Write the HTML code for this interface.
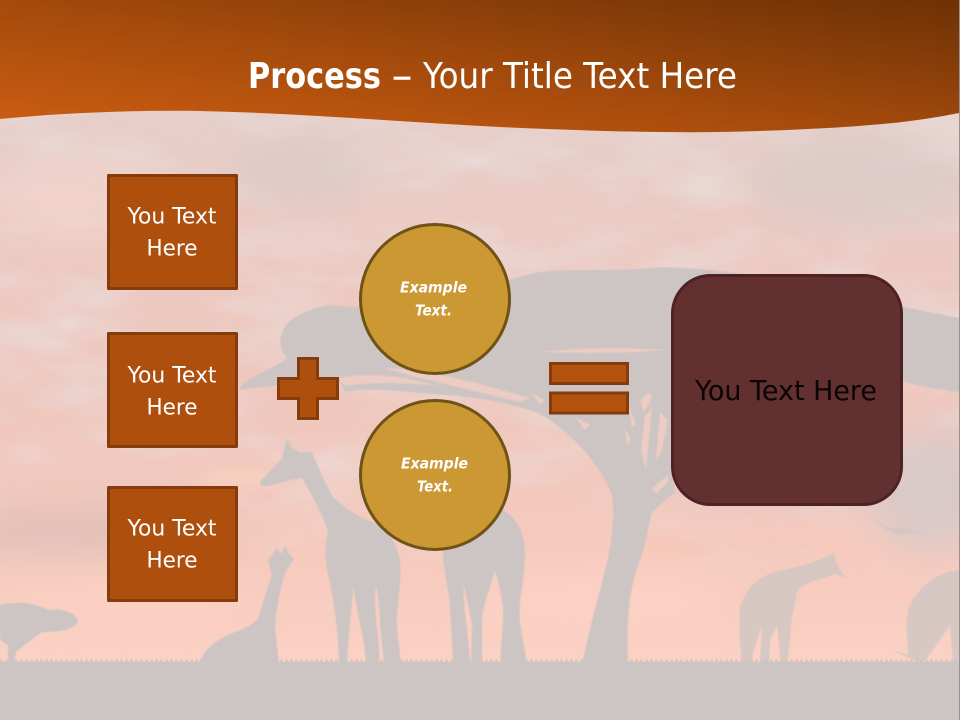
<!DOCTYPE html>
<html>
<head>
<meta charset="utf-8">
<style>
html,body{margin:0;padding:0;background:#cdc5c3}
svg{display:block}
text{font-family:"DejaVu Sans","Liberation Sans",sans-serif}
</style>
</head>
<body>
<svg width="960" height="720" viewBox="0 0 960 720" xmlns="http://www.w3.org/2000/svg">
<defs>
<linearGradient id="sky" x1="0" y1="100" x2="0" y2="670" gradientUnits="userSpaceOnUse">
<stop offset="0" stop-color="#e6cfca"/>
<stop offset=".25" stop-color="#eccac2"/>
<stop offset=".55" stop-color="#efc8be"/>
<stop offset=".8" stop-color="#f6cabd"/>
<stop offset="1" stop-color="#fbd2c5"/>
</linearGradient>
<linearGradient id="hdr" x1="0" y1="120" x2="38" y2="-141" gradientUnits="userSpaceOnUse">
<stop offset="0" stop-color="#ca5c11"/>
<stop offset=".45" stop-color="#a34a0c"/>
<stop offset="1" stop-color="#6b3005"/>
</linearGradient>
<linearGradient id="fade" x1="0" y1="100" x2="0" y2="600" gradientUnits="userSpaceOnUse">
<stop offset="0" stop-color="#fff"/>
<stop offset=".7" stop-color="#fff"/>
<stop offset="1" stop-color="#000"/>
</linearGradient>
<mask id="cloudmask" maskUnits="userSpaceOnUse" x="0" y="100" width="960" height="500">
<rect x="0" y="100" width="960" height="500" fill="url(#fade)"/>
</mask>
<filter id="b20" x="-30%" y="-60%" width="160%" height="220%"><feGaussianBlur stdDeviation="18"/></filter>
<filter id="b7" x="-30%" y="-80%" width="160%" height="260%"><feGaussianBlur stdDeviation="6"/></filter>
<filter id="b1"><feGaussianBlur stdDeviation=".5"/></filter>
<filter id="clouds" x="0" y="0" width="100%" height="100%">
<feTurbulence type="fractalNoise" baseFrequency=".008 .022" numOctaves="4" seed="7"/>
<feColorMatrix type="matrix" values="0 0 0 0 .82  0 0 0 0 .76  0 0 0 0 .75  2.6 0 0 0 -1.1"/>
</filter>
</defs>

<rect width="960" height="720" fill="url(#sky)"/>
<g mask="url(#cloudmask)">
<rect x="0" y="100" width="960" height="500" filter="url(#clouds)" opacity=".55"/>
</g>

<g filter="url(#b20)">
<ellipse cx="300" cy="170" rx="70" ry="30" fill="#d9c9c7" opacity=".7"/>
<ellipse cx="860" cy="180" rx="110" ry="45" fill="#dbcac8" opacity=".8"/>
<ellipse cx="80" cy="200" rx="90" ry="35" fill="#f1d2ca"/>
<ellipse cx="90" cy="530" rx="150" ry="25" fill="#e2c0b8"/>
<ellipse cx="780" cy="470" rx="140" ry="30" fill="#e0c6c1"/>
<ellipse cx="600" cy="600" rx="130" ry="28" fill="#fdd2c4"/>
<ellipse cx="130" cy="600" rx="120" ry="25" fill="#fcd0c3"/>
<ellipse cx="930" cy="490" rx="60" ry="60" fill="#d9c9c7"/>
</g>
<g filter="url(#b7)">
<ellipse cx="240" cy="478" rx="40" ry="6" fill="#fad3c0"/>
<ellipse cx="660" cy="548" rx="60" ry="3" fill="#f5c4b4"/>
<ellipse cx="650" cy="500" rx="30" ry="2" fill="#f5c4b4"/>
</g>

<!-- silhouettes -->
<g fill="#cdc5c3" filter="url(#b1)">
<path d="M282 333C286 318 305 311 328 305C345 306 362 310 372 304C405 300 440 306 468 298C490 285 515 277 540 272C575 268 620 272 660 267C700 268 745 272 790 284C840 292 890 305 960 318V392C920 388 880 375 840 365L690 420L672 480L675 492L652 512L650 520C648 530 645 548 640 560C630 585 626 620 628 664H582C587 640 592 620 600 590C608 560 616 530 612 495C600 465 575 435 540 414C510 402 470 396 420 393C390 390 365 388 345 392L338 378C305 382 270 386 239 390C245 376 270 372 287 358C280 350 279 342 282 333Z"/>
<path d="M260 482C266 474 276 466 282 458L287 438L291 447L300 452L312 452C318 468 326 484 333 497C345 508 356 515 367 520C385 525 396 540 400 560C402 585 396 605 397 627L401 664H384L380 625C380 610 378 595 376 585C372 610 381 640 379 664H366C365 640 358 620 353 585C352 610 348 640 347 664H339C338 630 334 600 328 573C324 560 325 545 328 530C320 510 310 492 302 478C288 479 270 488 261 486Z"/>
<path d="M443 560L445 530L500 509C517 515 526 535 525 558C524 585 518 600 520 622L527 664H500L503 620C504 605 500 590 495 570C490 590 484 600 482 620V664H471L472 625L464 585C462 605 470 640 470 664H453C451 635 451 605 447 585Z"/>
<path d="M277 548L281 554L285 546L289 554L294 559L289 566L284 576C280 592 276 610 275 627L279 664H198C205 650 212 641 235 632C246 628 254 624 258 618C264 600 268 585 272 575L268 560Z"/>
<path d="M0 605C15 601 35 602 48 610C62 608 76 612 78 621C75 630 60 632 42 632C34 638 24 645 16 652L14 664H8V645L0 640Z"/>
<path d="M740 608C744 592 755 578 775 572C790 568 810 565 828 556L833 552L837 565L846 578L835 574C820 580 802 582 797 592C794 610 790 625 790 640L787 664H781L777 625L770 640L769 664H760L762 625C758 640 752 650 752 664H742C740 645 738 625 740 608Z" opacity=".78"/>
<path d="M908 610C915 590 935 572 960 570V664H953L950 625C940 640 930 655 922 664C915 660 900 655 893 650L908 655C907 640 906 625 908 610Z" opacity=".78"/>
<path d="M868 512C878 524 890 530 900 528L925 532C910 534 900 535 895 534C885 530 875 522 868 512Z" opacity=".6"/>
</g>

<!-- pale gaps in tree -->
<g fill="#ecccc3" filter="url(#b1)">
<path d="M540 352L575 349L620 348L668 350L640 352L590 353Z"/>
<path d="M383 368L420 370L480 384L530 398L520 402L470 390L420 378Z"/>
<path d="M338 378C370 372 400 376 440 386C400 382 370 382 345 386Z"/>
<path d="M530 392L545 400L540 404Z"/>
<path d="M640 400L650 392L652 398L644 412Z"/>
<path d="M628 405L636 424L632 428Z"/>
<path d="M645 416L652 408L646 470L641 450Z"/>
<path d="M660 412L668 420L662 450L656 460Z"/>
<path d="M575 417L590 425L585 430Z"/>
<path d="M625 428L631 440L627 446Z"/>
<path d="M652 488L668 475V482L656 494Z"/>
</g>

<!-- ground -->
<rect x="0" y="662" width="960" height="58" fill="#cdc5c3"/>
<line x1="0" y1="661" x2="960" y2="661" stroke="#cdc5c3" stroke-width="3" stroke-dasharray="3 2" opacity=".8"/>

<!-- header -->
<path d="M0 119C60 113 130 110 200 111C300 113 400 122 500 127C590 131 680 134 760 131C840 128 900 125 959 113V0H0Z" fill="url(#hdr)"/>

<text x="248" y="88" font-size="36" font-weight="700" fill="#fff" textLength="133" lengthAdjust="spacingAndGlyphs">Process</text>
<text x="392" y="88" font-size="36" fill="#fff" stroke="#fff" stroke-width=".6" textLength="20" lengthAdjust="spacingAndGlyphs">–</text>
<text x="423" y="88" font-size="36" fill="#fff" textLength="314" lengthAdjust="spacingAndGlyphs">Your Title Text Here</text>

<!-- left boxes -->
<g fill="#ae4f0d" stroke="#843c0c" stroke-width="3" stroke-linejoin="round">
<rect x="108.500" y="175.500" width="128" height="113"/>
<rect x="108.500" y="333.500" width="128" height="113"/>
<rect x="108.500" y="487.500" width="128" height="113"/>
<path d="M298.500 358.500H317.500V378.500H337.500V398.500H317.500V418.500H298.500V398.500H278.500V378.500H298.500Z" stroke-linejoin="miter"/>
</g>
<g fill="#fff" font-size="22.500" text-anchor="middle">
<text x="172" y="223.500" textLength="89" lengthAdjust="spacingAndGlyphs">You Text</text>
<text x="172" y="255.500" textLength="51" lengthAdjust="spacingAndGlyphs">Here</text>
<text x="172" y="382.500" textLength="89" lengthAdjust="spacingAndGlyphs">You Text</text>
<text x="172" y="414.500" textLength="51" lengthAdjust="spacingAndGlyphs">Here</text>
<text x="172" y="535.500" textLength="89" lengthAdjust="spacingAndGlyphs">You Text</text>
<text x="172" y="567.500" textLength="51" lengthAdjust="spacingAndGlyphs">Here</text>
</g>

<!-- circles -->
<g fill="#cb9833" stroke="#6f5215" stroke-width="3">
<circle cx="435" cy="299" r="74.500"/>
<circle cx="435" cy="475" r="74.500"/>
</g>
<g fill="#fff" font-size="15.500" font-weight="700" font-style="italic">
<text x="400" y="292.500" textLength="67" lengthAdjust="spacingAndGlyphs">Example</text>
<text x="415" y="315.500" textLength="37" lengthAdjust="spacingAndGlyphs">Text.</text>
<text x="401" y="468.500" textLength="67" lengthAdjust="spacingAndGlyphs">Example</text>
<text x="417" y="491.500" textLength="36" lengthAdjust="spacingAndGlyphs">Text.</text>
</g>

<!-- equals -->
<g fill="#b3520e" stroke="#843c0c" stroke-width="3">
<rect x="550.500" y="363.500" width="77" height="20"/>
<rect x="550.500" y="393" width="77" height="20"/>
</g>

<!-- result -->
<rect x="672.500" y="275.500" width="229" height="229" rx="38" fill="#633030" stroke="#4e2222" stroke-width="3"/>
<text x="695" y="400" font-size="27.500" fill="#0a0505" textLength="182" lengthAdjust="spacingAndGlyphs">You Text Here</text>

<rect x="959" y="0" width="1" height="720" fill="#9a9090"/>
</svg>
</body>
</html>
